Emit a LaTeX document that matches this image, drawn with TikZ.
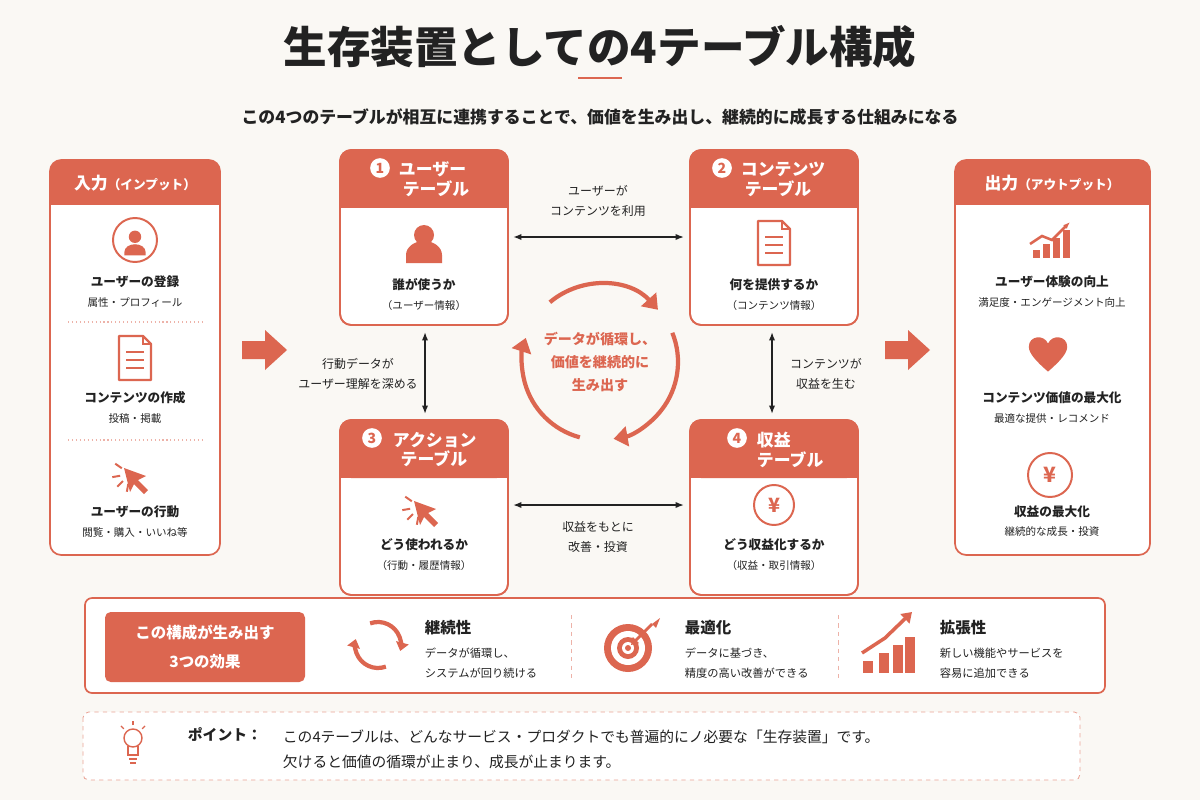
\documentclass[tikz,border=0pt]{standalone}
\usepackage{fontspec}
\setmainfont{Noto Sans CJK JP}
\usetikzlibrary{arrows.meta,calc}
\definecolor{rd}{HTML}{DC6650}
\definecolor{bg}{HTML}{FAF8F4}
\definecolor{tx}{HTML}{222222}
\tikzset{
 x=0.025cm,y=-0.025cm,
 card/.style={draw=rd,line width=1.2pt,rounded corners=8pt,fill=white},
 hd/.style={font=\fontsize{12}{14}\selectfont\bfseries,text=white,align=center},
 mt/.style={font=\fontsize{9}{11}\selectfont\bfseries,text=tx},
 st/.style={font=\fontsize{7.5}{9}\selectfont,text=tx},
 lb/.style={font=\fontsize{8.5}{14}\selectfont,text=tx,align=center},
 dbl/.style={{Latex[length=6pt]}-{Latex[length=6pt]},line width=1.1pt,tx},
 num/.style={circle,fill=white,inner sep=0pt,minimum size=14pt,text=rd,font=\fontsize{10}{10}\selectfont\bfseries},
 pics/person/.style={code={\fill[rd] (0,-10) circle (10); \fill[rd] (-18,18) -- (-18,10) arc[start angle=180,end angle=360,x radius=18,y radius=14] -- (18,18) -- cycle;}},
 pics/doc/.style={code={\draw[rd,line width=1.6pt,line join=round] (-16,-22)--(8,-22)--(16,-14)--(16,22)--(-16,22)--cycle; \draw[rd,line width=1.6pt] (8,-22)--(8,-14)--(16,-14); \foreach \yy in {-6,2,10}{\draw[rd,line width=1.8pt] (-9,\yy)--(9,\yy);}}},
 pics/cursor/.style={code={\fill[rd] (-6,-6)--(16,2)--(8,6)--(18,16)--(14,20)--(4,10)--(0,18)--cycle; \foreach \a in {100,135,170,215}{\draw[rd,line width=1.4pt] (\a:10)--(\a:18);}}},
 pics/growth/.style={code={\foreach \xx/\h in {-14/8,-4/14,6/20,16/28}{\fill[rd] (\xx-3.5,18)rectangle(\xx+3.5,18-\h);} \draw[rd,line width=1.8pt,-{Latex[length=5pt]}] (-20,4)--(-8,-4)--(2,0)--(20,-18);}},
}
\begin{document}
\begin{tikzpicture}
\useasboundingbox (0,0) rectangle (1200,800);
\fill[bg] (0,0) rectangle (1200,800);
% title
\node[font=\fontsize{31}{34}\selectfont\bfseries,text=tx] (title) at (600,47) {生存装置としての4テーブル構成};
\draw[rd,line width=2pt] (578,78)--(622,78);
\node[font=\fontsize{12}{14}\selectfont\bfseries,text=tx] (sub) at (600,117) {この4つのテーブルが相互に連携することで、価値を生み出し、継続的に成長する仕組みになる};

% left input box
\draw[card] (50,160) rectangle (220,555);
\fill[rd,rounded corners=8pt] (50,160) rectangle (220,205);
\fill[rd] (50,190) rectangle (220,205);
\node[hd] (inh) at (135,183) {入力\fontsize{9}{10}\selectfont（インプット）};
\draw[rd,line width=1.4pt] (135,240) circle (22);
\begin{scope}[shift={(135,243)},scale=0.62]
\fill[rd] (0,-10) circle (10); \fill[rd] (-17,20) -- (-17,14) arc[start angle=180,end angle=360,x radius=17,y radius=12] -- (17,20) -- cycle;
\end{scope}
\node[mt] (i1) at (135,282) {ユーザーの登録};
\node[st] (i1s) at (135,302) {属性・プロフィール};
\draw[rd!50,dotted,line width=0.8pt] (68,322)--(202,322);
\pic at (135,358) {doc};
\node[mt] (i2) at (135,398) {コンテンツの作成};
\node[st] (i2s) at (135,418) {投稿・掲載};
\draw[rd!50,dotted,line width=0.8pt] (68,440)--(202,440);
\pic at (130,474) {cursor};
\node[mt] (i3) at (135,512) {ユーザーの行動};
\node[st] (i3s) at (135,532) {閲覧・購入・いいね等};

% right output box
\draw[card] (955,160) rectangle (1150,555);
\fill[rd,rounded corners=8pt] (955,160) rectangle (1150,205);
\fill[rd] (955,190) rectangle (1150,205);
\node[hd] (outh) at (1052,183) {出力\fontsize{9}{10}\selectfont（アウトプット）};
\pic at (1050,240) {growth};
\node[mt] (o1) at (1052,282) {ユーザー体験の向上};
\node[st] (o1s) at (1052,302) {満足度・エンゲージメント向上};
\begin{scope}[shift={(1048,354)},scale=0.8]
\fill[rd] (0,22) .. controls (-15,9) and (-24,-1) .. (-24,-9) .. controls (-24,-23) and (-5,-25) .. (0,-13) .. controls (5,-25) and (24,-23) .. (24,-9) .. controls (24,-1) and (15,9) .. (0,22) -- cycle;
\end{scope}
\node[mt] (o2) at (1052,398) {コンテンツ価値の最大化};
\node[st] (o2s) at (1052,418) {最適な提供・レコメンド};
\draw[rd,line width=1.4pt] (1050,475) circle (22);
\node[text=rd,font=\fontsize{15}{15}\selectfont\bfseries] (yen1) at (1050,475) {¥};
\node[mt] (o3) at (1052,512) {収益の最大化};
\node[st] (o3s) at (1052,532) {継続的な成長・投資};

% big arrows
\fill[rd] (242,341)--(265,341)--(265,330)--(287,350)--(265,370)--(265,359)--(242,359)--cycle;
\fill[rd] (885,341)--(908,341)--(908,330)--(930,350)--(908,370)--(908,359)--(885,359)--cycle;

% tables
\foreach \nm/\x/\y in {t1/340/150,t2/690/150,t3/340/420,t4/690/420}{
 \draw[card] (\x,\y) rectangle ++(168,175);
 \fill[rd,rounded corners=8pt] (\x,\y) rectangle ++(168,58);
 \fill[rd] (\x,\y+45) rectangle ++(168,13);
 \draw[rd,line width=1.2pt,rounded corners=8pt] (\x,\y) rectangle ++(168,175);
 \coordinate (\nm) at (\x+84,\y+87);
}
\node[num] (n1) at (380,168) {1};
\node[hd,anchor=north west,align=left] (h1) at (394,157) {ユーザー\\ \ テーブル};
\node[num] (n2) at (722,168) {2};
\node[hd,anchor=north west,align=left] (h2) at (736,157) {コンテンツ\\ \ テーブル};
\node[num] (n3) at (372,438) {3};
\node[hd,anchor=north west,align=left] (h3) at (388,427) {アクション\\ \ \ テーブル};
\node[num] (n4) at (737,438) {4};
\node[hd,anchor=north west,align=left] (h4) at (752,427) {収益\\ テーブル};

\pic at (424,245) {person};
\node[mt] (b1) at (424,285) {誰が使うか};
\node[st] (b1s) at (424,305) {（ユーザー情報）};
\pic at (774,243) {doc};
\node[mt] (b2) at (774,285) {何を提供するか};
\node[st] (b2s) at (774,305) {（コンテンツ情報）};
\pic at (420,507) {cursor};
\node[mt] (b3) at (424,545) {どう使われるか};
\node[st] (b3s) at (424,565) {（行動・履歴情報）};
\draw[rd,line width=1.4pt] (774,505) circle (20);
\node[text=rd,font=\fontsize{14}{14}\selectfont\bfseries] (yen2) at (774,505) {¥};
\node[mt] (b4) at (774,545) {どう収益化するか};
\node[st] (b4s) at (774,565) {（収益・取引情報）};

% connectors
\coordinate (a1) at (513,237); \coordinate (a2) at (684,237);
\draw[dbl] (a1)--(a2);
\node[lb] (l1) at (598,201) {ユーザーが\\コンテンツを利用};
\coordinate (a3) at (513,505); \coordinate (a4) at (684,505);
\draw[dbl] (a3)--(a4);
\node[lb] (l2) at (598,537) {収益をもとに\\改善・投資};
\coordinate (a5) at (425,332); \coordinate (a6) at (425,414);
\draw[dbl] (a5)--(a6);
\node[lb] (l3) at (358,374) {行動データが\\ユーザー理解を深める};
\coordinate (a7) at (772,332); \coordinate (a8) at (772,414);
\draw[dbl] (a7)--(a8);
\node[lb] (l4) at (826,374) {コンテンツが\\収益を生む};

% cycle
\coordinate (cc) at (600,362);
\foreach \s/\e in {-130/-42,-22/80,105/198}{
 \draw[rd,line width=3pt,-{Triangle[length=10pt,width=14pt]}] (cc) ++(\s:78) arc[start angle=\s,end angle=\e,radius=78];
}
\node[font=\fontsize{10}{16.5}\selectfont\bfseries,text=rd,align=center] (cyc) at (600,362) {データが循環し、\\価値を継続的に\\生み出す};

% effects box
\draw[rd,line width=1.2pt,rounded corners=5pt,fill=white] (85,598) rectangle (1105,693);
\fill[rd,rounded corners=4pt] (105,612) rectangle (305,682);
\node[font=\fontsize{11}{20}\selectfont\bfseries,text=white,align=center] (eff) at (205,647) {この構成が生み出す\\3つの効果};
% cycle icon
\draw[rd,line width=3pt,-{Triangle[length=6pt,width=9pt]}] (378,645) ++(-110:23) arc[start angle=-110,end angle=15,radius=23];
\draw[rd,line width=3pt,-{Triangle[length=6pt,width=9pt]}] (378,645) ++(70:23) arc[start angle=70,end angle=195,radius=23];
\node[font=\fontsize{11}{13}\selectfont\bfseries,text=tx,anchor=west] (e1) at (420,628) {継続性};
\node[st,anchor=west,align=left,font=\fontsize{8}{14}\selectfont] (e1s) at (420,663) {データが循環し、\\システムが回り続ける};
\draw[rd!50,dashed,line width=0.6pt] (571,615)--(571,682);
% target
\foreach \r/\c in {24/rd,17/white,11/rd,6/white,3/rd}{\fill[\c] (628,648) circle (\r);}
\draw[rd,line width=2pt,-{Triangle[length=5pt,width=6pt]}] (652,624)--(631,645);
\fill[rd] (652,624)--(660,618)--(656,628)--cycle;
\node[font=\fontsize{11}{13}\selectfont\bfseries,text=tx,anchor=west] (e2) at (680,628) {最適化};
\node[st,anchor=west,align=left,font=\fontsize{8}{14}\selectfont] (e2s) at (680,663) {データに基づき、\\精度の高い改善ができる};
\draw[rd!50,dashed,line width=0.6pt] (838,615)--(838,682);
% growth icon
\foreach \xx/\h in {868/12,884/20,898/28,910/36}{\fill[rd] (\xx-5,673) rectangle (\xx+5,673-\h);}
\draw[rd,line width=2.5pt,-{Triangle[length=7pt,width=9pt]}] (862,653)--(885,638)--(912,612);
\node[font=\fontsize{11}{13}\selectfont\bfseries,text=tx,anchor=west] (e3) at (935,628) {拡張性};
\node[st,anchor=west,align=left,font=\fontsize{8}{14}\selectfont] (e3s) at (935,663) {新しい機能やサービスを\\容易に追加できる};

% point box
\draw[rd!60,dashed,line width=0.6pt,rounded corners=4pt,fill=white] (83,712) rectangle (1080,780);
\draw[rd,line width=1pt] (133,738) circle (9);
\draw[rd,line width=1pt] (128,746) -- (128,755) -- (138,755) -- (138,746);
\draw[rd,line width=1pt] (129,759)--(137,759);
\draw[rd,line width=1pt] (130,763)--(136,763);
\foreach \a in {45,90,135}{\draw[rd,line width=0.9pt] (133,738) ++(-\a:13) -- ++(-\a:4);}
\node[font=\fontsize{10.5}{12}\selectfont\bfseries,text=tx,anchor=west] (pt) at (183,735) {ポイント：};
\node[font=\fontsize{10.5}{17.5}\selectfont,text=tx,anchor=north west,align=left] (ptx) at (278,725) {この4テーブルは、どんなサービス・プロダクトでも普遍的にノ必要な「生存装置」です。\\欠けると価値の循環が止まり、成長が止まります。};
\end{tikzpicture}
\end{document}
